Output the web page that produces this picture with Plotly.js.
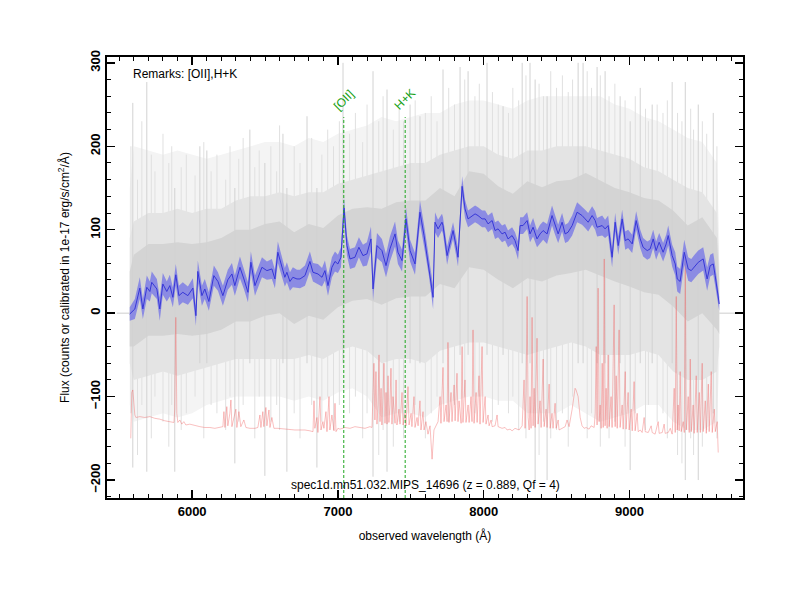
<!DOCTYPE html>
<html><head><meta charset="utf-8">
<script src="https://cdn.plot.ly/plotly-3.0.1.min.js"></script>
<style>html,body{margin:0;padding:0;background:#fff}#chart{width:800px;height:600px}</style>
</head><body><div id="chart"></div>
<script>
// ---- redshift / line identifications ----
const z = 0.889;
const lineNames = ['[OII]', 'H+K'];
const lineRest = [3727, 3950];

// ---- smoothed spectrum (blue) ----
const blueW = [5572,5607,5641,5662,5689,5710,5723,5758,5778,5799,
5826,5847,5868,5888,5909,5936,5971,6005,6026,6039,
6067,6087,6115,6149,6177,6211,6245,6273,6293,6328,
6355,6383,6403,6431,6479,6513,6547,6568,6588,6616,
6636,6650,6671,6691,6719,6740,6774,6808,6829,6863,
6891,6911,6932,6959,6980,7000,7021,7042,7062,7083,
7117,7144,7172,7199,7227,7241,7268,7302,7330,7357,
7392,7412,7440,7467,7495,7529,7563,7591,7611,7625,
7653,7666,7687,7714,7721,7749,7769,7790,7810,7824,
7852,7872,7893,7920,7941,7961,7989,8010,8030,8058,
8078,8099,8126,8147,8167,8195,8215,8236,8250,8270,
8298,8318,8339,8366,8387,8408,8435,8469,8490,8511,
8538,8559,8579,8607,8641,8675,8696,8717,8744,8765,
8778,8813,8833,8854,8881,8902,8923,8950,8971,8991,
9019,9046,9074,9094,9122,9142,9163,9183,9204,9231,
9252,9266,9293,9314,9328,9348,9376,9403,9424,9451,
9472,9506,9533,9554,9575,9588,9616];
const blueF = [-1,5,30,5,31,26,37,29,5,35,
26,33,19,46,21,25,21,30,-3,50,
21,29,14,45,38,21,40,47,33,55,
41,25,61,33,55,51,53,41,73,57,
43,49,38,43,41,41,45,62,49,47,
43,51,33,55,62,59,67,126,81,65,
67,79,69,71,89,29,81,75,57,77,
95,73,63,113,75,59,121,93,69,57,
19,109,101,109,105,69,85,99,81,67,
152,125,113,117,119,117,113,113,107,111,
99,101,95,97,89,93,87,75,105,105,
111,95,103,89,95,99,95,117,105,95,
109,95,97,105,121,117,113,109,117,111,
103,105,101,105,67,109,81,113,87,89,
83,111,89,79,75,77,89,75,85,73,
83,93,69,59,41,38,73,53,51,57,
61,65,41,57,59,45,11];
const blueErr = [8,12,13,12,14,12,13,12,14,13,
12,13,12,13,12,12,11,12,12,13,
12,12,11,12,11,12,12,13,12,13,
12,12,13,12,12,11,12,11,13,12,
11,12,11,12,11,11,12,12,11,12,
11,12,12,12,12,11,12,13,12,12,
12,12,13,14,15,14,15,14,14,15,
15,14,13,14,13,13,14,13,12,13,
14,12,11,10,10,11,10,10,11,11,
12,11,10,10,10,10,10,10,10,10,
10,10,10,10,10,10,10,11,10,10,
10,10,11,10,11,11,12,12,11,11,
11,11,11,12,12,11,11,11,11,11,
11,12,11,12,12,11,11,11,11,11,
11,11,11,11,11,11,11,11,11,11,
11,12,13,14,15,15,15,14,14,14,
14,14,14,13,13,12,8];

// ---- raw spectrum (grey) envelopes on a coarse grid ----
const greyW = [5572,5600,5700,5800,5900,6000,6100,6200,6300,6400,6500,6600,6700,6800,6900,7000,7100,7200,7300,7400,7500,7600,7700,7800,7900,8000,8100,8200,8300,8400,8500,8600,8700,8800,8900,9000,9100,9200,9300,9400,9500,9600,9616];
const outerHi = [150,200,195,190,195,190,185,190,195,200,205,205,200,210,205,215,220,225,235,230,235,240,240,250,255,255,250,245,255,260,260,260,260,260,250,245,235,230,220,210,205,180,90];
const outerLo = [-110,-130,-125,-120,-125,-120,-110,-105,-100,-100,-100,-100,-105,-100,-105,-95,-90,-100,-125,-120,-120,-125,-110,-105,-100,-100,-105,-105,-120,-120,-120,-110,-120,-130,-125,-120,-110,-110,-130,-140,-140,-130,-60];
const midHi = [90,110,120,120,125,120,125,125,135,140,140,145,140,145,145,155,160,165,170,175,180,180,190,195,200,200,190,185,195,195,200,200,200,195,190,185,175,170,160,150,145,120,60];
const midLo = [-60,-80,-75,-70,-75,-70,-65,-60,-55,-55,-55,-55,-55,-50,-55,-45,-40,-45,-60,-55,-55,-60,-45,-40,-35,-35,-40,-45,-50,-45,-40,-35,-40,-50,-50,-50,-45,-50,-70,-80,-80,-70,-40];
const innerHi = [50,70,83,83,85,83,85,90,100,100,107,110,97,107,102,117,125,127,125,133,135,135,150,140,170,167,152,143,158,151,158,160,168,159,150,145,138,135,123,105,115,90,40];
const innerLo = [-40,-40,-27,-27,-25,-27,-25,-20,-10,-10,-3,0,-13,-3,-8,7,15,17,10,18,20,20,35,30,55,52,40,30,42,38,45,48,52,45,38,32,25,22,8,-10,0,-20,-25];
// zero padding at both ends of the raw spectrum
const padW = [5483,5572,9616,9726];
const padF = [0,0,0,0];
// prominent individual pixels of the raw spectrum
const spikeW = [5593,5689,5881,6053,6101,6293,6396,6499,6623,6650,6788,6856,7035,7241,7337,7495,7563,7721,7838,7893,8023,8133,8264,8318,8353,8435,8648,8682,8778,8833,8936,9005,9074,9156,9293,9383,9472,9575];
const spikeHi = [252,277,150,200,195,150,220,180,215,150,236,150,300,290,268,250,236,292,295,290,300,248,300,300,280,260,300,300,295,290,260,230,270,250,277,277,250,240];
const spikeLo = [-185,-190,-190,-60,-60,-180,-60,-195,-60,-190,-60,-185,-60,-196,-190,-60,-60,-60,-50,-50,-50,-50,-60,-60,-200,-200,-60,-60,-60,-60,-60,-188,-60,-60,-60,-200,-200,-120];
// fainter pixels of the raw spectrum
const faintW = [5580,5625,5655,5720,5745,5800,5840,5860,5925,5960,6020,6080,6130,6170,6230,6260,6320,6350,6430,6460,6540,6580,6600,6700,6740,6820,6890,6930,6970,7010,7080,7120,7170,7200,7280,7310,7380,7420,7450,7530,7600,7640,7680,7760,7800,7870,7940,7970,8060,8100,8170,8200,8240,8290,8380,8410,8460,8500,8540,8580,8610,8710,8740,8800,8860,8900,8970,9040,9110,9130,9190,9230,9260,9330,9360,9420,9440,9500,9530,9600];
const faintHi = [200,160,230,190,170,215,180,200,175,190,165,205,170,190,160,200,185,210,175,195,200,170,225,200,180,210,190,220,200,230,215,240,205,250,230,260,220,245,230,255,240,260,230,270,250,280,260,275,265,250,240,270,255,285,275,260,290,270,285,265,280,290,270,285,260,275,255,260,245,230,250,240,255,240,230,245,220,230,215,200];
const faintLo = [-120,-170,-110,-150,-100,-130,-160,-110,-140,-120,-100,-150,-110,-120,-140,-100,-130,-110,-150,-100,-130,-110,-140,-120,-150,-110,-130,-100,-140,-110,-120,-100,-150,-120,-170,-140,-160,-130,-150,-110,-150,-120,-100,-130,-110,-100,-120,-100,-130,-110,-120,-100,-140,-150,-170,-130,-150,-140,-120,-160,-100,-150,-120,-160,-150,-130,-160,-120,-140,-110,-130,-120,-150,-170,-180,-150,-170,-160,-140,-150];

// ---- sky / error spectrum (red), shifted ----
const redW = [5579,5586,5593,5607,5614,5641,5675,5710,5744,5778,
5813,5847,5875,5881,5888,5895,5902,5916,5929,5943,
5957,5984,6019,6053,6087,6122,6156,6190,6211,6218,
6225,6238,6245,6259,6266,6273,6286,6300,6307,6321,
6334,6355,6369,6396,6431,6451,6465,6472,6485,6492,
6506,6513,6527,6534,6547,6561,6588,6636,6671,6705,
6740,6774,6808,6829,6836,6842,6856,6863,6877,6884,
6897,6904,6918,6925,6939,6945,6959,6973,6980,6987,
7000,7014,7048,7083,7117,7151,7186,7220,7234,7241,
7247,7254,7261,7268,7275,7282,7289,7296,7302,7309,
7316,7323,7330,7337,7344,7350,7357,7364,7371,7378,
7392,7399,7405,7419,7426,7440,7447,7460,7467,7481,
7488,7502,7508,7522,7529,7543,7550,7563,7570,7584,
7591,7604,7618,7632,7646,7659,7673,7687,7701,7707,
7721,7728,7742,7749,7755,7762,7776,7783,7797,7804,
7817,7824,7831,7845,7852,7858,7872,7879,7893,7900,
7913,7920,7927,7934,7948,7955,7968,7975,7989,7996,
8010,8016,8030,8037,8051,8058,8078,8092,8099,8126,
8147,8161,8181,8195,8215,8243,8264,8277,8284,8291,
8298,8305,8312,8318,8325,8332,8339,8346,8353,8366,
8373,8387,8394,8408,8415,8428,8435,8449,8456,8469,
8476,8490,8497,8511,8517,8538,8559,8572,8586,8607,
8614,8627,8634,8648,8662,8675,8689,8703,8723,8737,
8758,8765,8772,8778,8785,8792,8799,8806,8813,8820,
8827,8833,8840,8847,8854,8861,8874,8881,8895,8902,
8909,8916,8929,8936,8950,8957,8971,8977,8991,8998,
9012,9019,9032,9039,9053,9060,9074,9087,9101,9108,
9129,9149,9156,9176,9197,9204,9225,9238,9245,9266,
9280,9293,9307,9314,9321,9328,9334,9341,9348,9355,
9369,9376,9383,9390,9403,9410,9417,9424,9437,9444,
9458,9465,9479,9486,9499,9506,9520,9527,9541,9547,
9561,9568,9582,9589,9602,9609];
const redF = [-150,-95,-92,-122,-125,-124,-125,-124,-126,-127,
-129,-130,-131,-115,-5,-120,-131,-128,-133,-130,
-134,-133,-135,-136,-137,-137,-138,-137,-136,-118,
-137,-112,-135,-120,-104,-136,-125,-115,-137,-118,
-136,-128,-137,-138,-138,-137,-122,-137,-118,-136,
-113,-135,-116,-137,-125,-138,-138,-139,-139,-140,
-140,-140,-141,-142,-105,-138,-125,-143,-100,-140,
-130,-138,-118,-142,-100,-140,-122,-141,-108,-142,
-138,-139,-137,-138,-136,-137,-138,-136,-137,-95,
-60,-128,-70,-133,-110,-50,-130,-90,-134,-100,
-60,-132,-95,-133,-75,-131,-110,-66,-133,-100,
-132,-80,-134,-115,-133,-95,-134,-120,-135,-88,
-134,-120,-136,-100,-137,-125,-135,-105,-140,-118,
-140,-130,-145,-135,-175,-140,-135,-130,-100,-132,
-65,-130,-110,-130,-35,-131,-95,-130,-86,-129,
-72,-130,-105,-132,-40,-131,-80,-131,-110,-131,
-100,-130,-20,-132,-95,-131,-75,-133,-40,-131,
-100,-133,-122,-135,-128,-136,-135,-122,-136,-138,
-137,-140,-139,-141,-138,-140,-135,-80,-138,-95,
20,-125,-140,-100,-138,-5,-135,-90,-137,-30,
-133,-105,-137,-55,-136,-115,-137,-85,-138,-120,
-138,-108,-138,-128,-140,-138,-136,-128,-136,-115,
-105,-90,-92,-100,-125,-135,-138,-137,-139,-135,
-137,-120,-40,-134,30,-130,-110,-138,-60,-137,
65,-135,-90,-138,-50,-136,-100,-137,10,-136,
-75,-138,-20,-137,-110,-139,-70,-139,-95,-140,
-115,-141,-82,-141,-120,-142,-140,-143,-125,-142,
-143,-135,-143,-145,-130,-144,-143,-133,-144,-143,
-138,-145,-90,-143,20,-140,-110,-141,-70,-142,
-130,-143,70,-140,-100,-143,-55,-142,-110,-144,
-75,-143,-95,-143,-60,-142,-105,-144,-85,-142,
-70,-143,-115,-142,-130,-167];

// ---- texts ----
const remarks = 'Remarks: [OII],H+K';
const specName = 'spec1d.mn51.032.MIPS_14696 (z = 0.889, Qf = 4)';
const xTitle = 'observed wavelength (Å)';
const yTitle = 'Flux (counts or calibrated in 1e-17 erg/s/cm<sup>2</sup>/Å)';

const FONT = 'Liberation Sans, Arial, Helvetica, sans-serif';
const lineWaves = lineRest.map(r => r * (1 + z));

function band(w, lo, hi, color) {
  return [
    {x: w, y: lo, type: 'scatter', mode: 'lines', line: {width: 0, color: color}, hoverinfo: 'skip', showlegend: false},
    {x: w, y: hi, type: 'scatter', mode: 'lines', line: {width: 0, color: color}, fill: 'tonexty', fillcolor: color, hoverinfo: 'skip', showlegend: false}
  ];
}
function segs(w, lo, hi) {
  const X = [], Y = [];
  w.forEach((v, i) => { X.push(v, v, null); Y.push(lo[i], hi[i], null); });
  return {X: X, Y: Y};
}

const sp = segs(spikeW, spikeLo, spikeHi);
const fa = segs(faintW, faintLo, faintHi);
const padX = [padW[0], padW[1], null, padW[2], padW[3]];
const padY = [padF[0], padF[1], null, padF[2], padF[3]];

const traces = [].concat(
  band(greyW, outerLo, outerHi, 'rgb(244,244,244)'),
  [{x: fa.X, y: fa.Y, type: 'scatter', mode: 'lines', line: {width: 1, color: 'rgb(224,224,224)'}, showlegend: false}],
  band(greyW, midLo, midHi, 'rgb(228,228,228)'),
  band(greyW, innerLo, innerHi, 'rgb(212,212,212)'),
  [{x: sp.X, y: sp.Y, type: 'scatter', mode: 'lines', line: {width: 1, color: 'rgb(210,210,210)'}, showlegend: false},
   {x: padX, y: padY, type: 'scatter', mode: 'lines', line: {width: 1, color: 'rgb(205,205,205)'}, showlegend: false},
   {x: redW, y: redF, type: 'scatter', mode: 'lines', line: {width: 0.7, color: 'rgba(240,90,90,0.55)'}, showlegend: false}],
  band(blueW, blueF.map((v, i) => v - blueErr[i]), blueF.map((v, i) => v + blueErr[i]), 'rgba(120,120,230,0.8)'),
  [{x: blueW, y: blueF, type: 'scatter', mode: 'lines', line: {width: 1, color: 'rgb(55,55,215)'}, showlegend: false}]
);

const shapes = lineWaves.map(w => ({
  type: 'line', xref: 'x', yref: 'y', x0: w, x1: w, y0: -221.5, y1: 235,
  line: {color: 'rgb(30,165,30)', width: 1, dash: '3px,2px'}
}));

const annotations = [
  {xref: 'paper', yref: 'paper', x: 0.037, y: 0.9625, xanchor: 'left', yanchor: 'middle', showarrow: false,
   text: remarks, font: {family: FONT, size: 12, color: 'black'}},
  {xref: 'paper', yref: 'paper', x: 0.5, y: 0.03, xanchor: 'center', yanchor: 'middle', showarrow: false,
   text: specName, font: {family: FONT, size: 12, color: 'black'}}
].concat(lineWaves.map((w, i) => ({
  xref: 'x', yref: 'y', x: w, y: 237, xanchor: 'center', yanchor: 'bottom', showarrow: false,
  textangle: -45, text: lineNames[i], font: {family: FONT, size: 12, color: 'rgb(20,160,20)'}
})));

const axisCommon = {
  showgrid: false, zeroline: false, showline: true, linewidth: 2, linecolor: 'black', mirror: 'allticks',
  ticks: 'inside', ticklen: 8, tickwidth: 1.5, tickcolor: 'black', tickformat: 'd',
  tickfont: {family: FONT, size: 13, color: 'black', weight: 'bold'}
};

const layout = {
  width: 800, height: 600,
  margin: {l: 107, r: 57, t: 57, b: 102},
  paper_bgcolor: 'white', plot_bgcolor: 'white',
  showlegend: false,
  xaxis: Object.assign({}, axisCommon, {
    range: [5416, 9779], tick0: 0, dtick: 1000,
    minor: {ticks: 'inside', dtick: 100, ticklen: 4, tickwidth: 1, tickcolor: 'black'},
    title: {text: xTitle, font: {family: FONT, size: 12, color: 'black'}, standoff: 14}
  }),
  yaxis: Object.assign({}, axisCommon, {
    range: [-221.5, 307], tick0: 0, dtick: 100, tickangle: -90,
    minor: {ticks: 'inside', dtick: 20, ticklen: 4, tickwidth: 1, tickcolor: 'black'},
    title: {text: yTitle, font: {family: FONT, size: 12, color: 'black'}, standoff: 16}
  }),
  shapes: shapes,
  annotations: annotations
};

Plotly.newPlot('chart', traces, layout, {staticPlot: true, displayModeBar: false});
</script>
</body></html>
